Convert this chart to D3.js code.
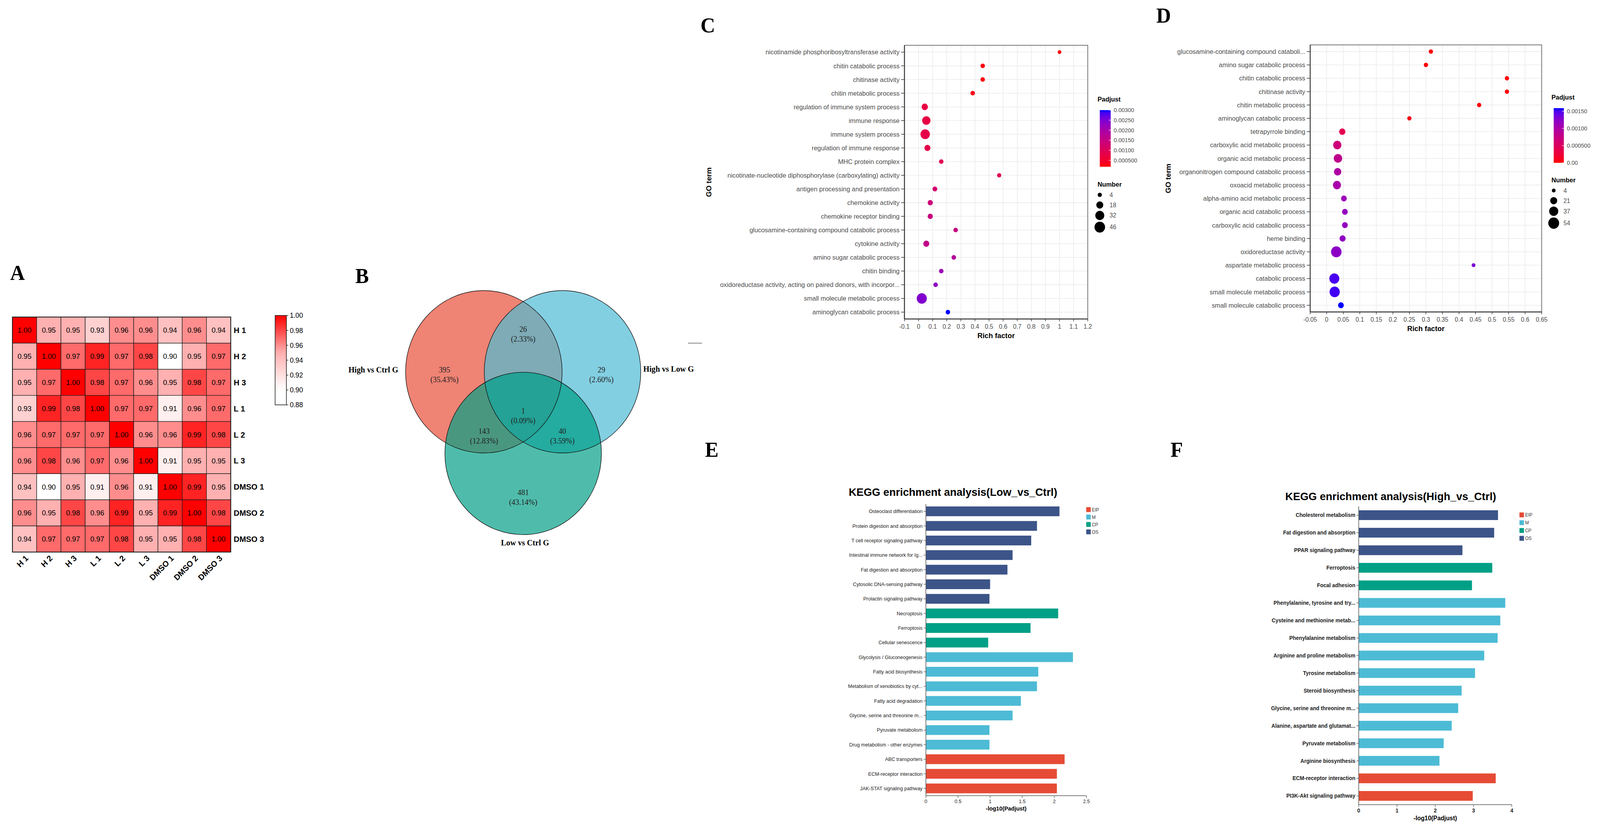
<!DOCTYPE html>
<html><head><meta charset="utf-8">
<script src="https://cdn.jsdelivr.net/npm/d3@7"></script>
<style>html,body{margin:0;padding:0;background:#fff;overflow:hidden;width:100%;height:100%} svg{display:block;width:100vw;height:100vh}</style>
</head><body>
<svg id="fig" viewBox="0 0 4251 2131" preserveAspectRatio="none"></svg>
<script>
// ================= DATA =================
// Panel A: sample correlation heatmap
const samples = ["H 1","H 2","H 3","L 1","L 2","L 3","DMSO 1","DMSO 2","DMSO 3"];
const corrRows = [
  [1.00,0.95,0.95,0.93,0.96,0.96,0.94,0.96,0.94],
  [0.95,1.00,0.97,0.99,0.97,0.98,0.90,0.95,0.97],
  [0.95,0.97,1.00,0.98,0.97,0.96,0.95,0.98,0.97],
  [0.93,0.99,0.98,1.00,0.97,0.97,0.91,0.96,0.97],
  [0.96,0.97,0.97,0.97,1.00,0.96,0.96,0.99,0.98],
  [0.96,0.98,0.96,0.97,0.96,1.00,0.91,0.95,0.95],
  [0.94,0.90,0.95,0.91,0.96,0.91,1.00,0.99,0.95],
  [0.96,0.95,0.98,0.96,0.99,0.95,0.99,1.00,0.98],
  [0.94,0.97,0.97,0.97,0.98,0.95,0.95,0.98,1.00]
];
const corrTicks = [1.00,0.98,0.96,0.94,0.92,0.90,0.88];

// Panel B: Venn
const vennSets = ["High vs Ctrl G","High vs Low G","Low vs Ctrl G"];
const vennRegions = ["A","B","C","AB","AC","BC","ABC"];
const vennCounts = [395,29,481,26,143,40,1];
const vennPercents = ["(35.43%)","(2.60%)","(43.14%)","(2.33%)","(12.83%)","(3.59%)","(0.09%)"];

// Panel C: GO bubble (Low vs Ctrl)
const cTerms = ["nicotinamide phosphoribosyltransferase activity","chitin catabolic process","chitinase activity","chitin metabolic process","regulation of immune system process","immune response","immune system process","regulation of immune response","MHC protein complex","nicotinate-nucleotide diphosphorylase (carboxylating) activity","antigen processing and presentation","chemokine activity","chemokine receptor binding","glucosamine-containing compound catabolic process","cytokine activity","amino sugar catabolic process","chitin binding","oxidoreductase activity, acting on paired donors, with incorpor...","small molecule metabolic process","aminoglycan catabolic process"];
const cRich = [1.00,0.455,0.455,0.384,0.044,0.055,0.047,0.063,0.161,0.572,0.116,0.083,0.083,0.263,0.055,0.250,0.161,0.121,0.023,0.208];
const cNumber = [2,5,5,5,14,27,36,12,5,4,6,8,8,5,12,5,5,5,42,5];
const cPadj = [0.00018,0.00022,0.00024,0.00030,0.00075,0.00078,0.00080,0.00085,0.00088,0.00095,0.00125,0.00140,0.00145,0.00150,0.00160,0.00180,0.00215,0.00230,0.00245,0.00300];
const cRichTicks = [-0.1,0,0.1,0.2,0.3,0.4,0.5,0.6,0.7,0.8,0.9,1,1.1,1.2];
const cPadjTicks = [0.003,0.0025,0.002,0.0015,0.001,0.0005];
const cPadjTickLabels = ["0.00300","0.00250","0.00200","0.00150","0.00100","0.000500"];
const cNumberBreaks = [4,18,32,46];

// Panel D: GO bubble (High vs Ctrl)
const dTerms = ["glucosamine-containing compound cataboli...","amino sugar catabolic process","chitin catabolic process","chitinase activity","chitin metabolic process","aminoglycan catabolic process","tetrapyrrole binding","carboxylic acid metabolic process","organic acid metabolic process","organonitrogen compound catabolic process","oxoacid metabolic process","alpha-amino acid metabolic process","organic acid catabolic process","carboxylic acid catabolic process","heme binding","oxidoreductase activity","aspartate metabolic process","catabolic process","small molecule metabolic process","small molecule catabolic process"];
const dRich = [0.315,0.300,0.545,0.545,0.461,0.250,0.047,0.032,0.034,0.033,0.031,0.052,0.055,0.055,0.048,0.029,0.444,0.023,0.024,0.043];
const dNumber = [6,6,6,6,6,6,16,30,31,23,29,13,13,13,15,51,4,45,48,13];
const dPadj = [0.000005,0.00002,0.00002,0.00002,0.00003,0.00008,0.00040,0.00068,0.00082,0.00098,0.00102,0.00112,0.00116,0.00118,0.00120,0.00122,0.00130,0.00150,0.00152,0.00159];
const dRichTicks = [-0.05,0,0.05,0.1,0.15,0.2,0.25,0.3,0.35,0.4,0.45,0.5,0.55,0.6,0.65];
const dPadjTicks = [0.0015,0.001,0.0005,0];
const dPadjTickLabels = ["0.00150","0.00100","0.000500","0.00"];
const dNumberBreaks = [4,21,37,54];

// Panel E: KEGG (Low vs Ctrl)
const keggClasses = ["EIP","M","CP","OS"];
const keggColors = ["#E64B35","#4DBBD5","#00A087","#3C5488"];
const eTerms = ["Osteoclast differentiation","Protein digestion and absorption","T cell receptor signaling pathway","Intestinal immune network for Ig...","Fat digestion and absorption","Cytosolic DNA-sensing pathway","Prolactin signaling pathway","Necroptosis","Ferroptosis","Cellular senescence","Glycolysis / Gluconeogenesis","Fatty acid biosynthesis","Metabolism of xenobiotics by cyt...","Fatty acid degradation","Glycine, serine and threonine m...","Pyruvate metabolism","Drug metabolism - other enzymes","ABC transporters","ECM-receptor interaction","JAK-STAT signaling pathway"];
const eValues = [2.08,1.73,1.64,1.35,1.27,1.00,0.99,2.06,1.63,0.97,2.29,1.75,1.73,1.48,1.35,0.99,0.99,2.16,2.04,2.04];
const eClass = ["OS","OS","OS","OS","OS","OS","OS","CP","CP","CP","M","M","M","M","M","M","M","EIP","EIP","EIP"];
const eTicks = [0,0.5,1,1.5,2,2.5];

// Panel F: KEGG (High vs Ctrl)
const fTerms = ["Cholesterol metabolism","Fat digestion and absorption","PPAR signaling pathway","Ferroptosis","Focal adhesion","Phenylalanine, tyrosine and try...","Cysteine and methionine metab...","Phenylalanine metabolism","Arginine and proline metabolism","Tyrosine metabolism","Steroid biosynthesis","Glycine, serine and threonine m...","Alanine, aspartate and glutamat...","Pyruvate metabolism","Arginine biosynthesis","ECM-receptor interaction","PI3K-Akt signaling pathway"];
const fValues = [3.64,3.54,2.71,3.49,2.96,3.83,3.70,3.63,3.28,3.04,2.69,2.60,2.43,2.22,2.11,3.58,2.98];
const fClass = ["OS","OS","OS","CP","CP","M","M","M","M","M","M","M","M","M","M","EIP","EIP"];
const fTicks = [0,1,2,3,4];

// ================= DRAWING =================
const SANS = "'Liberation Sans', Arial, Helvetica, sans-serif";
const SERIF = "'Liberation Serif', 'Times New Roman', serif";
const svg = d3.select("#fig");
svg.append("rect").attr("width",4251).attr("height",2131).attr("fill","#fff");
const defs = svg.append("defs");

// panel letters
[["A",27,717],["B",944,725],["C",1861,83],["D",3072,58],["E",1873,1170],["F",3110,1170]].forEach(([t,x,y])=>{
  svg.append("text").attr("x",x).attr("y",y).attr("font-family",SERIF).attr("font-weight","bold")
    .attr("font-size",54).attr("fill","#000").text(t);
});

// ---------- A ----------
(function(){
  const g = svg.append("g");
  const hx = d3.scaleBand().domain(samples).range([33,613]);
  const hy = d3.scaleBand().domain(samples).range([812,1414]);
  const heat = d3.scaleLinear().domain([0.90,0.95,1.00]).range(["#ffffff","#ffb0b0","#ff0000"]).clamp(true);
  const cells = [];
  samples.forEach((r,i)=>samples.forEach((c,j)=>cells.push({r,c,v:corrRows[i][j]})));
  g.selectAll("rect.c").data(cells).join("rect")
    .attr("x",d=>hx(d.c)).attr("y",d=>hy(d.r)).attr("width",hx.bandwidth()).attr("height",hy.bandwidth())
    .attr("fill",d=>heat(d.v)).attr("stroke","#1a1a1a").attr("stroke-width",1.3);
  g.selectAll("text.v").data(cells).join("text")
    .attr("x",d=>hx(d.c)+hx.bandwidth()/2).attr("y",d=>hy(d.r)+hy.bandwidth()/2).attr("dy","0.36em")
    .attr("text-anchor","middle").attr("font-family",SANS).attr("font-size",19).attr("fill","#000")
    .text(d=>d.v.toFixed(2));
  g.append("rect").attr("x",33).attr("y",812).attr("width",580).attr("height",602).attr("fill","none").attr("stroke","#111").attr("stroke-width",2);
  g.selectAll("text.r").data(samples).join("text")
    .attr("x",621).attr("y",d=>hy(d)+hy.bandwidth()/2).attr("dy","0.36em")
    .attr("font-family",SANS).attr("font-weight","bold").attr("font-size",21).text(d=>d);
  g.selectAll("text.cl").data(samples).join("text")
    .attr("transform",d=>`translate(${hx(d)+hx.bandwidth()/2+6},${1426}) rotate(-45)`)
    .attr("text-anchor","end").attr("dy","0.35em")
    .attr("font-family",SANS).attr("font-weight","bold").attr("font-size",21).text(d=>d);
  // colorbar
  const cb = d3.scaleLinear().domain([0.88,1.00]).range([1037,808]);
  const grad = defs.append("linearGradient").attr("id","heatGrad").attr("x1",0).attr("y1",1).attr("x2",0).attr("y2",0);
  d3.range(0,1.0001,0.05).forEach(t=>{
    grad.append("stop").attr("offset",t).attr("stop-color",heat(0.88+t*0.12));
  });
  g.append("rect").attr("x",731).attr("y",808).attr("width",30).attr("height",229).attr("fill","url(#heatGrad)").attr("stroke","#111").attr("stroke-width",1.5);
  corrTicks.forEach(v=>{
    g.append("line").attr("x1",761).attr("x2",766).attr("y1",cb(v)).attr("y2",cb(v)).attr("stroke","#111").attr("stroke-width",1.3);
    g.append("text").attr("x",770).attr("y",cb(v)).attr("dy","0.36em").attr("font-family",SANS).attr("font-size",18).text(v.toFixed(2));
  });
})();

// ---------- B ----------
(function(){
  const g = svg.append("g");
  const cx = 1390, cy = 1022, R = 208, dx = 104.5, dy = 69.7;
  const circ = [{x:cx-dx,y:cy-dy},{x:cx+dx,y:cy-dy},{x:cx,y:cy+2*dy}];
  circ.forEach((c,i)=>defs.append("clipPath").attr("id","vc"+i).append("circle").attr("cx",c.x).attr("cy",c.y).attr("r",R));
  const col = {A:"#ef8374",B:"#83cfe2",C:"#4fbcab",AB:"#7eabb6",AC:"#4a9780",BC:"#24aca0",ABC:"#23a295"};
  const circle = (parent,c,fill)=>parent.append("circle").attr("cx",c.x).attr("cy",c.y).attr("r",R).attr("fill",fill);
  circle(g,circ[0],col.A); circle(g,circ[1],col.B); circle(g,circ[2],col.C);
  circle(g.append("g").attr("clip-path","url(#vc0)"),circ[1],col.AB);
  circle(g.append("g").attr("clip-path","url(#vc0)"),circ[2],col.AC);
  circle(g.append("g").attr("clip-path","url(#vc1)"),circ[2],col.BC);
  circle(g.append("g").attr("clip-path","url(#vc0)").append("g").attr("clip-path","url(#vc1)"),circ[2],col.ABC);
  circ.forEach(c=>g.append("circle").attr("cx",c.x).attr("cy",c.y).attr("r",R).attr("fill","none").attr("stroke","#111").attr("stroke-width",1.4));
  const off = {A:[-209,-63],B:[208,-63],C:[0,251],AB:[0,-167],AC:[-104,94],BC:[104,94],ABC:[0,42]};
  vennRegions.forEach((r,i)=>{
    const [ox,oy] = off[r];
    g.append("text").attr("x",cx+ox).attr("y",cy+oy-12).attr("dy","0.35em").attr("text-anchor","middle")
      .attr("font-family",SERIF).attr("font-size",20).attr("fill","#222").text(vennCounts[i]);
    g.append("text").attr("x",cx+ox).attr("y",cy+oy+13).attr("dy","0.35em").attr("text-anchor","middle")
      .attr("font-family",SERIF).attr("font-size",20).attr("fill","#222").text(vennPercents[i]);
  });
  const lab = (t,x,y,anchor)=>g.append("text").attr("x",x).attr("y",y).attr("dy","0.35em").attr("text-anchor",anchor)
      .attr("font-family",SERIF).attr("font-weight","bold").attr("font-size",21).text(t);
  lab(vennSets[0],1058,947,"end");
  lab(vennSets[1],1709,945,"start");
  lab(vennSets[2],1395,1390,"middle");
  g.append("line").attr("x1",1828).attr("x2",1865).attr("y1",879).attr("y2",879).attr("stroke","#999").attr("stroke-width",2.5);
})();

// ---------- C & D bubble plots ----------
function bubble(o){
  const g = svg.append("g");
  const x = d3.scaleLinear().domain(o.xDomain).range([o.left,o.right]);
  const y = d3.scalePoint().domain(o.terms).range([o.top,o.bottom]).padding(0.5);
  const size = d3.scaleRadial().domain([o.breaks[0],o.breaks[o.breaks.length-1]]).range(o.rRange);
  const color = d3.scaleLinear().domain(o.cDomain).range(["#ff0000","#0000ff"]).interpolate(d3.interpolateLab);
  g.selectAll("line.gx").data(o.xTicks).join("line").attr("x1",d=>x(d)).attr("x2",d=>x(d)).attr("y1",o.top).attr("y2",o.bottom)
    .attr("stroke","#ebebeb").attr("stroke-width",1.6);
  g.selectAll("line.gy").data(o.terms).join("line").attr("y1",d=>y(d)).attr("y2",d=>y(d)).attr("x1",o.left).attr("x2",o.right)
    .attr("stroke","#ebebeb").attr("stroke-width",1.6);
  g.append("rect").attr("x",o.left).attr("y",o.top).attr("width",o.right-o.left).attr("height",o.bottom-o.top)
    .attr("fill","none").attr("stroke","#555").attr("stroke-width",1.6);
  g.append("line").attr("x1",o.left).attr("x2",o.left).attr("y1",o.top).attr("y2",o.bottom).attr("stroke","#333").attr("stroke-width",2.4);
  g.append("line").attr("x1",o.left).attr("x2",o.right).attr("y1",o.bottom).attr("y2",o.bottom).attr("stroke","#333").attr("stroke-width",2.4);
  const pts = o.terms.map((t,i)=>({t,rich:o.rich[i],n:o.number[i],p:o.padj[i]}));
  g.selectAll("circle.p").data(pts).join("circle").attr("cx",d=>x(d.rich)).attr("cy",d=>y(d.t)).attr("r",d=>size(d.n))
    .attr("fill",d=>color(d.p));
  g.selectAll("line.ty").data(o.terms).join("line").attr("x1",o.left-9).attr("x2",o.left).attr("y1",d=>y(d)).attr("y2",d=>y(d))
    .attr("stroke","#333").attr("stroke-width",1.5);
  g.selectAll("text.ly").data(o.terms).join("text").attr("x",o.left-13).attr("y",d=>y(d)).attr("dy","0.35em")
    .attr("text-anchor","end").attr("font-family",SANS).attr("font-size",17).attr("fill","#4d4d4d").text(d=>d);
  g.selectAll("line.tx").data(o.xTicks).join("line").attr("x1",d=>x(d)).attr("x2",d=>x(d)).attr("y1",o.bottom).attr("y2",o.bottom+6)
    .attr("stroke","#333").attr("stroke-width",1.5);
  g.selectAll("text.lx").data(o.xTicks).join("text").attr("x",d=>x(d)).attr("y",o.bottom+25)
    .attr("text-anchor","middle").attr("font-family",SANS).attr("font-size",16).attr("fill","#4d4d4d").text(d=>String(+d.toFixed(2)));
  g.append("text").attr("x",(o.left+o.right)/2).attr("y",o.bottom+49).attr("text-anchor","middle")
    .attr("font-family",SANS).attr("font-weight","bold").attr("font-size",19).text("Rich factor");
  g.append("text").attr("transform",`translate(${o.goX},${(o.top+o.bottom)/2}) rotate(-90)`).attr("text-anchor","middle")
    .attr("font-family",SANS).attr("font-weight","bold").attr("font-size",19).text("GO term");
  const L = o.legend;
  g.append("text").attr("x",L.x-6).attr("y",L.barTop-22).attr("font-family",SANS).attr("font-weight","bold").attr("font-size",17).text("Padjust");
  const gid = "grad"+o.id;
  const gr = defs.append("linearGradient").attr("id",gid).attr("x1",0).attr("y1",1).attr("x2",0).attr("y2",0);
  d3.range(0,1.0001,0.05).forEach(t=>gr.append("stop").attr("offset",t).attr("stop-color",color(o.cDomain[0]+t*(o.cDomain[1]-o.cDomain[0]))));
  g.append("rect").attr("x",L.x).attr("y",L.barTop).attr("width",L.barW).attr("height",L.barBottom-L.barTop).attr("fill",`url(#${gid})`);
  const cy = d3.scaleLinear().domain(o.cDomain).range([L.barBottom,L.barTop]);
  o.cTicks.forEach((v,i)=>{
    g.append("line").attr("x1",L.x+L.barW-5).attr("x2",L.x+L.barW).attr("y1",cy(v)).attr("y2",cy(v)).attr("stroke","#fff").attr("stroke-width",1.2);
    g.append("text").attr("x",L.x+L.barW+8).attr("y",cy(v)).attr("dy","0.35em").attr("font-family",SANS).attr("font-size",15).attr("fill","#4d4d4d").text(o.cTickLabels[i]);
  });
  g.append("text").attr("x",L.x-6).attr("y",L.numY).attr("font-family",SANS).attr("font-weight","bold").attr("font-size",17).text("Number");
  let yy = L.numY+8;
  o.breaks.forEach(b=>{
    const r = size(b), h = Math.max(26, 2*r+4);
    const c = yy + h/2;
    g.append("circle").attr("cx",L.x).attr("cy",c).attr("r",r).attr("fill","#000");
    g.append("text").attr("x",L.x+26).attr("y",c).attr("dy","0.35em").attr("font-family",SANS).attr("font-size",16).attr("fill","#4d4d4d").text(b);
    yy += h;
  });
}
bubble({id:"C",terms:cTerms,rich:cRich,number:cNumber,padj:cPadj,xDomain:[-0.1,1.2],xTicks:cRichTicks,
  left:2403,right:2890,top:116,bottom:817,goX:1890,breaks:cNumberBreaks,rRange:[5.6,14],cDomain:[0.00018,0.003],
  cTicks:cPadjTicks,cTickLabels:cPadjTickLabels,legend:{x:2922,barW:29,barTop:282,barBottom:427,numY:478}});
bubble({id:"D",terms:dTerms,rich:dRich,number:dNumber,padj:dPadj,xDomain:[-0.05,0.65],xTicks:dRichTicks,
  left:3481,right:4096,top:115,bottom:799,goX:3110,breaks:dNumberBreaks,rRange:[5,14.4],cDomain:[0,0.00159],
  cTicks:dPadjTicks,cTickLabels:dPadjTickLabels,legend:{x:4128,barW:27,barTop:277,barBottom:417,numY:467}});

// ---------- E & F bar plots ----------
function kegg(o){
  const g = svg.append("g");
  const x = d3.scaleLinear().domain([0,o.xMax]).range([o.left,o.right]);
  const y = d3.scaleBand().domain(o.terms).range([o.top,o.bottom]).paddingInner(o.pad).paddingOuter(o.pad/2);
  const col = d3.scaleOrdinal().domain(keggClasses).range(keggColors);
  const bars = o.terms.map((t,i)=>({t,v:o.values[i],c:o.cls[i]}));
  g.selectAll("rect.b").data(bars).join("rect").attr("x",x(0)).attr("y",d=>y(d.t)).attr("width",d=>x(d.v)-x(0)).attr("height",y.bandwidth())
    .attr("fill",d=>col(d.c));
  g.append("line").attr("x1",o.left).attr("x2",o.left).attr("y1",o.top).attr("y2",o.bottom).attr("stroke","#555").attr("stroke-width",1.6);
  g.append("line").attr("x1",o.left).attr("x2",o.right).attr("y1",o.bottom).attr("y2",o.bottom).attr("stroke","#555").attr("stroke-width",1.6);
  g.selectAll("line.ty").data(o.terms).join("line").attr("x1",o.left-6).attr("x2",o.left).attr("y1",d=>y(d)+y.bandwidth()/2).attr("y2",d=>y(d)+y.bandwidth()/2)
    .attr("stroke","#555").attr("stroke-width",1.3);
  g.selectAll("text.ly").data(o.terms).join("text").attr("x",o.left-9).attr("y",d=>y(d)+y.bandwidth()/2).attr("dy","0.35em")
    .attr("text-anchor","end").attr("font-family",SANS).attr("font-weight",o.bold?"bold":"normal").attr("font-size",o.labelSize).attr("fill","#222").text(d=>d);
  g.selectAll("line.tx").data(o.ticks).join("line").attr("x1",d=>x(d)).attr("x2",d=>x(d)).attr("y1",o.bottom).attr("y2",o.bottom+6)
    .attr("stroke","#555").attr("stroke-width",1.3);
  g.selectAll("text.lx").data(o.ticks).join("text").attr("x",d=>x(d)).attr("y",o.bottom+o.tickDy).attr("text-anchor","middle")
    .attr("font-family",SANS).attr("font-weight",o.bold?"bold":"normal").attr("font-size",o.tickSize).attr("fill","#222").text(d=>String(d));
  g.append("text").attr("x",(o.left+o.right)/2).attr("y",o.bottom+o.xtDy).attr("text-anchor","middle")
    .attr("font-family",SANS).attr("font-weight","bold").attr("font-size",o.xtSize).text("-log10(Padjust)");
  g.append("text").attr("x",o.titleX).attr("y",o.titleY).attr("text-anchor","middle")
    .attr("font-family",SANS).attr("font-weight","bold").attr("font-size",28.5).text(o.title);
  keggClasses.forEach((k,i)=>{
    g.append("rect").attr("x",o.legX).attr("y",o.legY+i*o.legStep).attr("width",12).attr("height",12.5).attr("fill",col(k));
    g.append("text").attr("x",o.legX+15).attr("y",o.legY+i*o.legStep+6.5).attr("dy","0.35em").attr("font-family",SANS)
      .attr("font-size",12).attr("fill","#333").text(k);
  });
}
kegg({terms:eTerms,values:eValues,cls:eClass,xMax:2.5,ticks:eTicks,left:2460,right:2886.5,top:1291,bottom:2038,pad:0.33,
  bold:false,labelSize:13,tickSize:13,tickDy:19,xtDy:38,xtSize:15,title:"KEGG enrichment analysis(Low_vs_Ctrl)",
  titleX:2532,titleY:1270,legX:2886,legY:1299,legStep:19});
kegg({terms:fTerms,values:fValues,cls:fClass,xMax:4,ticks:fTicks,left:3610,right:4016.6,top:1297,bottom:2061,pad:0.444,
  bold:true,labelSize:14,tickSize:14,tickDy:20,xtDy:40,xtSize:16,title:"KEGG enrichment analysis(High_vs_Ctrl)",
  titleX:3695,titleY:1281,legX:4037,legY:1312.5,legStep:20});
</script>
</body></html>
